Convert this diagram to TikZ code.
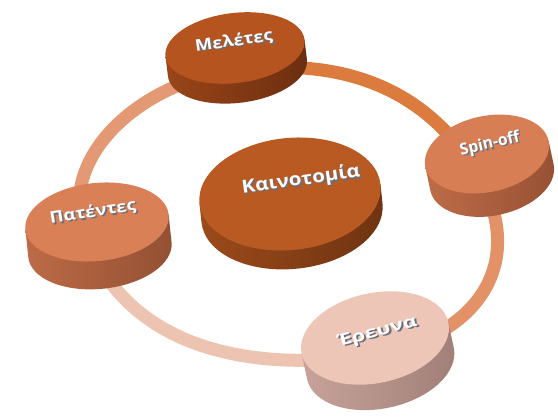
\documentclass[tikz,border=0pt]{standalone}
\usepackage{fontspec}
\setmainfont{Open Sans}
\usetikzlibrary{shapes.geometric,backgrounds}
\definecolor{ringPM}{HTML}{E39A74}
\definecolor{ringMS}{HTML}{DB7B3E}
\definecolor{ringSE}{HTML}{E39166}
\definecolor{ringEP}{HTML}{EDC4B2}
\definecolor{mTop}{HTML}{B5541F}
\definecolor{mSideL}{HTML}{9A4519}
\definecolor{mSideR}{HTML}{6B2E0F}
\definecolor{kTop}{HTML}{B95A22}
\definecolor{kSideL}{HTML}{9C4A1A}
\definecolor{kSideR}{HTML}{6E3311}
\definecolor{sTop}{HTML}{D87E55}
\definecolor{sSideL}{HTML}{BE6C47}
\definecolor{sSideR}{HTML}{965034}
\definecolor{pTop}{HTML}{D98057}
\definecolor{pSideL}{HTML}{BD6B46}
\definecolor{pSideR}{HTML}{935033}
\definecolor{eTop}{HTML}{EEC6B7}
\definecolor{eSideL}{HTML}{C7A39A}
\definecolor{eSideR}{HTML}{A07F78}
\definecolor{txtshadow}{HTML}{6A6E78}
% white text with a grey drop edge, scaled to a given width
\newcommand{\bev}[2]{\resizebox{#1}{\height}{\rlap{\kern1.3pt\raisebox{-1.5pt}{\textcolor{txtshadow}{#2}}}\textcolor{white}{#2}}}
% side of a disc: x, y, rotation, x radius, y radius, thickness, left colour, right colour
\newcommand{\discside}[8]{%
  \begin{scope}[shift={(#1pt,#2pt)},rotate=#3]
    \shade[left color=#7,right color=#8]
      (-#4pt,0pt) -- (-#4pt,-#6pt)
      arc[start angle=180,end angle=360,x radius=#4pt,y radius=#5pt]
      -- (#4pt,0pt) -- cycle;
  \end{scope}}
\tikzset{
  disctop/.style={ellipse,draw=none,inner sep=0pt},
  disctext/.style={inner sep=0pt,font=\bfseries\fontsize{16}{19}\selectfont},
  ringseg/.style={line width=13pt,line cap=round}
}
\begin{document}
\begin{tikzpicture}[x=1pt,y=1pt]
\useasboundingbox (0,0) rectangle (558,417);
% Meletes
\discside{235}{369}{7}{70}{35}{20}{mSideL}{mSideR}
\node[disctop,fill=mTop,minimum width=140pt,minimum height=70pt,rotate=7] (m) at (235,369) {};
\node[disctext,rotate=8] (mt) at ([shift={(-1pt,6pt)}]m.center) {\bev{78pt}{Μελέτες}};
% Spin-off
\discside{487}{263}{12}{63}{38}{24}{sSideL}{sSideR}
\node[disctop,fill=sTop,minimum width=126pt,minimum height=76pt,rotate=12] (s) at (487,263) {};
\node[disctext,rotate=13] (st) at ([shift={(3pt,9pt)}]s.center) {\bev{61pt}{Spin-off}};
% Kainotomia
\discside{290}{223}{6}{91}{56}{19}{kSideL}{kSideR}
\node[disctop,fill=kTop,minimum width=182pt,minimum height=112pt,rotate=6] (k) at (290,223) {};
\node[disctext,rotate=8,font=\bfseries\fontsize{18}{22}\selectfont] (kt) at ([shift={(11pt,13pt)}]k.center) {\bev{119pt}{Καινοτομία}};
% Patentes
\discside{97}{195}{6}{72}{39}{28}{pSideL}{pSideR}
\node[disctop,fill=pTop,minimum width=144pt,minimum height=78pt,rotate=6] (p) at (97,195) {};
\node[disctext,rotate=9] (pt) at ([shift={(-4pt,9pt)}]p.center) {\bev{87pt}{Πατέντες}};
% Ereuna
\discside{375}{79}{12}{75}{45}{26}{eSideL}{eSideR}
\node[disctop,fill=eTop,minimum width=150pt,minimum height=90pt,rotate=12] (e) at (375,79) {};
\node[disctext,rotate=15] (et) at ([shift={(3pt,5pt)}]e.center) {\bev{81pt}{Έρευνα}};
% ring anchors under the discs
\coordinate (rM) at ([shift={(-10pt,-24pt)}]m.center);
\coordinate (rS) at ([shift={(-12pt,-16pt)}]s.center);
\coordinate (rE) at ([shift={(-5pt,-17pt)}]e.center);
\coordinate (rP) at ([shift={(-12pt,-13pt)}]p.center);
\begin{pgfonlayer}{background}
  \fill[white] (0,0) rectangle (558,417);
  \draw[ringseg,ringPM] (rP) to[out=110,in=189] (rM);
  \draw[ringseg,ringMS] (rM) to[out=9,in=121.5] (rS);
  \draw[ringseg,ringSE] (rS) to[out=-58.5,in=8.5,looseness=1.3] (rE);
  \draw[ringseg,ringEP] (rE) to[out=188.5,in=-70] (rP);
\end{pgfonlayer}
\end{tikzpicture}
\end{document}
